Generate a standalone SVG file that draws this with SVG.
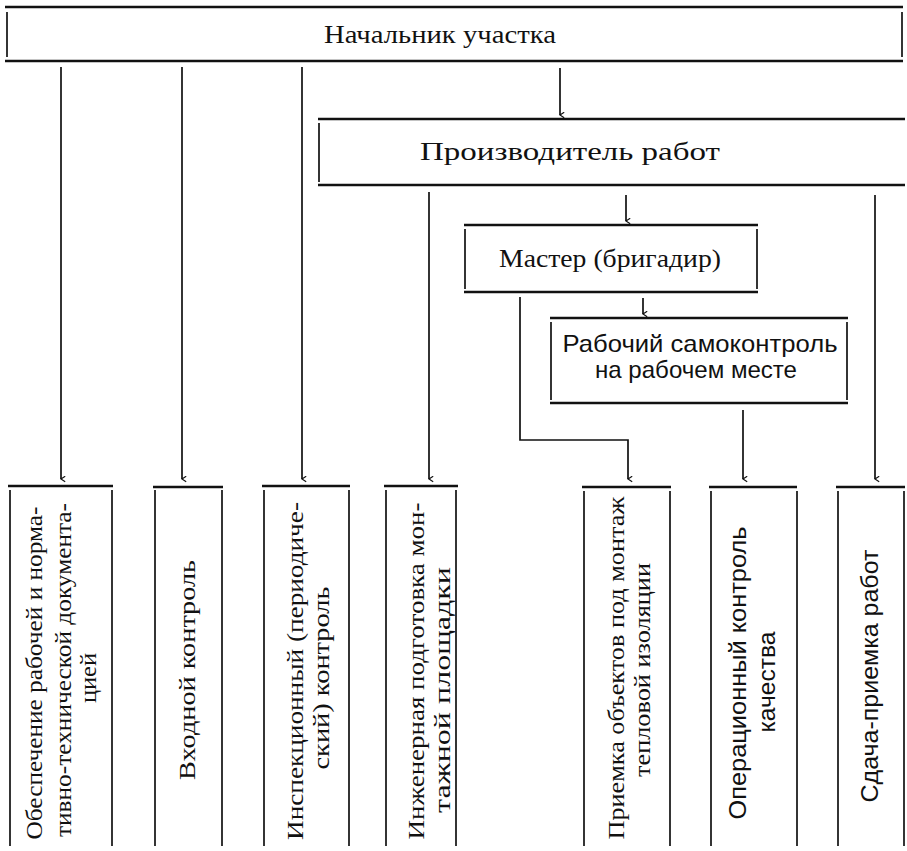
<svg xmlns="http://www.w3.org/2000/svg" width="907" height="851" viewBox="0 0 907 851">
<defs>
<marker id="ah" viewBox="0 0 10 10" refX="5" refY="9" markerWidth="7" markerHeight="7" markerUnits="userSpaceOnUse" orient="auto-start-reverse">
<path d="M1,3 L5,9 L9,3" fill="none" stroke="#111" stroke-width="1.6"/>
</marker>
</defs>
<style>
.h{stroke:#111;stroke-width:2.4;fill:none}
.v{stroke:#111;stroke-width:1.7;fill:none}
.c{stroke:#111;stroke-width:1.7;fill:none}
.a{marker-end:url(#ah)}
.s{font-family:"Liberation Serif","DejaVu Serif",serif;font-size:24px;fill:#111}
.sh{font-family:"Liberation Serif","DejaVu Serif",serif;font-size:26px;fill:#111}
.ss{font-family:"Liberation Sans","DejaVu Sans",sans-serif;font-size:24px;fill:#111}
text{text-anchor:middle}
</style>
<rect width="907" height="851" fill="#fff"/>
<g id="n-nachalnik">
<line class="h" x1="5" y1="7" x2="903" y2="7"/>
<line class="h" x1="5" y1="61" x2="903" y2="61"/>
<line class="v" x1="7" y1="12" x2="7" y2="57"/>
<line class="v" x1="902" y1="12" x2="902" y2="57"/>
<text class="sh" x="440" y="43" textLength="232" lengthAdjust="spacingAndGlyphs">Начальник  участка</text>
</g>
<g id="n-proizvoditel">
<line class="h" x1="318" y1="119" x2="905" y2="119"/>
<line class="h" x1="318" y1="185" x2="905" y2="185"/>
<line class="v" x1="319" y1="123" x2="319" y2="182"/>
<text class="sh" x="570" y="160" textLength="300" lengthAdjust="spacingAndGlyphs">Производитель  работ</text>
</g>
<g id="n-master">
<line class="h" x1="464" y1="225" x2="758" y2="225"/>
<line class="h" x1="464" y1="292" x2="758" y2="292"/>
<line class="v" x1="465" y1="229" x2="465" y2="289"/>
<line class="v" x1="757" y1="229" x2="757" y2="289"/>
<text class="sh" x="610" y="267" textLength="222" lengthAdjust="spacingAndGlyphs">Мастер  (бригадир)</text>
</g>
<g id="n-rabochiy">
<line class="h" x1="550" y1="318" x2="848" y2="318"/>
<line class="h" x1="550" y1="403" x2="848" y2="403"/>
<line class="v" x1="551" y1="322" x2="551" y2="400"/>
<line class="v" x1="847" y1="322" x2="847" y2="400"/>
<text class="ss" x="700" y="352" textLength="275" lengthAdjust="spacingAndGlyphs">Рабочий   самоконтроль</text>
<text class="ss" x="696" y="378" textLength="202" lengthAdjust="spacingAndGlyphs">на  рабочем  месте</text>
</g>
<g id="b1">
<line class="h" x1="8" y1="486" x2="113" y2="486"/>
<line class="v" x1="10" y1="490" x2="10" y2="846"/>
<line class="v" x1="112" y1="490" x2="112" y2="846"/>
<text class="s" transform="translate(42,673) rotate(-90)" textLength="333" lengthAdjust="spacingAndGlyphs">Обеспечение рабочей и норма-</text>
<text class="s" transform="translate(71,670) rotate(-90)" textLength="334" lengthAdjust="spacingAndGlyphs">тивно-технической  документа-</text>
<text class="s" transform="translate(96,678) rotate(-90)" textLength="50" lengthAdjust="spacingAndGlyphs">цией</text>
</g>
<g id="b2">
<line class="h" x1="153" y1="487" x2="223" y2="487"/>
<line class="v" x1="155" y1="490" x2="155" y2="846"/>
<line class="v" x1="222" y1="490" x2="222" y2="846"/>
<text class="s" transform="translate(195,670) rotate(-90)" textLength="220" lengthAdjust="spacingAndGlyphs">Входной  контроль</text>
</g>
<g id="b3">
<line class="h" x1="262" y1="486" x2="350" y2="486"/>
<line class="v" x1="264" y1="490" x2="264" y2="846"/>
<line class="v" x1="349" y1="490" x2="349" y2="846"/>
<text class="s" transform="translate(303,671) rotate(-90)" textLength="338" lengthAdjust="spacingAndGlyphs">Инспекционный  (периодиче-</text>
<text class="s" transform="translate(329,678) rotate(-90)" textLength="183" lengthAdjust="spacingAndGlyphs">ский)  контроль</text>
</g>
<g id="b4">
<line class="h" x1="384" y1="486" x2="458" y2="486"/>
<line class="v" x1="386" y1="490" x2="386" y2="846"/>
<line class="v" x1="456" y1="490" x2="456" y2="846"/>
<text class="s" transform="translate(424,671) rotate(-90)" textLength="337" lengthAdjust="spacingAndGlyphs">Инженерная подготовка мон-</text>
<text class="s" transform="translate(450,690) rotate(-90)" textLength="246" lengthAdjust="spacingAndGlyphs">тажной  площадки</text>
</g>
<g id="b5">
<line class="h" x1="582" y1="487" x2="671" y2="487"/>
<line class="v" x1="584" y1="491" x2="584" y2="846"/>
<line class="v" x1="670" y1="491" x2="670" y2="846"/>
<text class="s" transform="translate(624,668) rotate(-90)" textLength="343" lengthAdjust="spacingAndGlyphs">Приемка объектов под монтаж</text>
<text class="s" transform="translate(650,670) rotate(-90)" textLength="214" lengthAdjust="spacingAndGlyphs">тепловой  изоляции</text>
</g>
<g id="b6">
<line class="h" x1="709" y1="487" x2="797" y2="487"/>
<line class="v" x1="711" y1="491" x2="711" y2="846"/>
<line class="v" x1="797" y1="491" x2="797" y2="846"/>
<text class="ss" transform="translate(746,673) rotate(-90)" textLength="293" lengthAdjust="spacingAndGlyphs">Операционный  контроль</text>
<text class="ss" transform="translate(775,682) rotate(-90)" textLength="101" lengthAdjust="spacingAndGlyphs">качества</text>
</g>
<g id="b7">
<line class="h" x1="836" y1="487" x2="905" y2="487"/>
<line class="v" x1="838" y1="491" x2="838" y2="846"/>
<line class="v" x1="904" y1="491" x2="904" y2="846"/>
<text class="ss" transform="translate(878,676) rotate(-90)" textLength="253" lengthAdjust="spacingAndGlyphs">Сдача-приемка  работ</text>
</g>
<g id="connectors">
<line class="c a" x1="61" y1="67" x2="61" y2="479"/>
<line class="c a" x1="182" y1="67" x2="182" y2="479"/>
<line class="c a" x1="302" y1="67" x2="302" y2="479"/>
<line class="c a" x1="560" y1="68" x2="560" y2="115"/>
<line class="c a" x1="429" y1="192" x2="429" y2="479"/>
<line class="c a" x1="875" y1="195" x2="875" y2="479"/>
<line class="c a" x1="626" y1="195" x2="626" y2="221"/>
<path class="c a" d="M520,297 V440 H628 V479"/>
<line class="c a" x1="643" y1="298" x2="643" y2="314"/>
<line class="c a" x1="743" y1="410" x2="743" y2="479"/>
</g>
</svg>
